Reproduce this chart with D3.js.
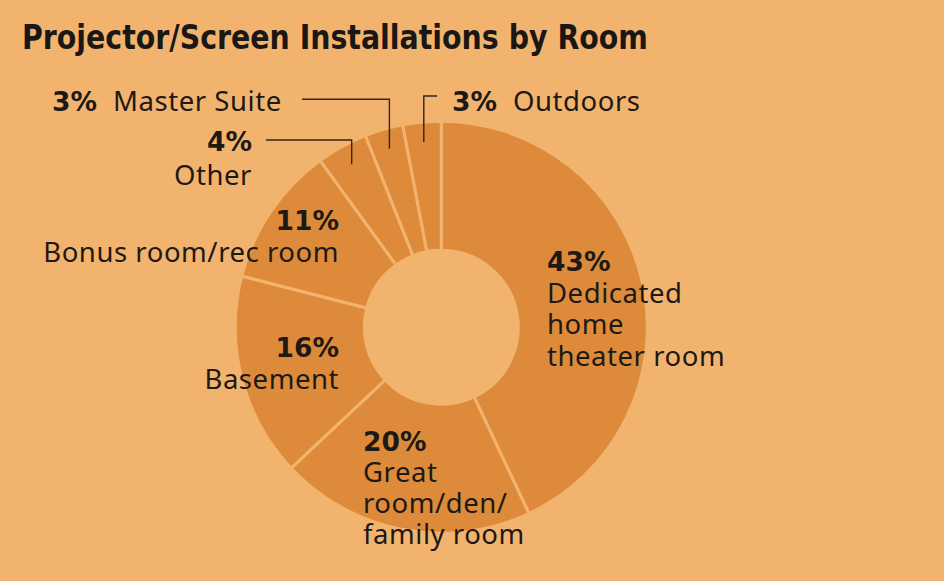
<!DOCTYPE html>
<html>
<head>
<meta charset="utf-8">
<script src="https://cdn.jsdelivr.net/npm/d3@7"></script>
<style>
  html, body { margin: 0; padding: 0; background: #f2b36f; }
  svg { display: block; }
  .title { font-family: "DejaVu Sans", sans-serif; font-weight: bold; font-size: 34px; fill: #1b1714; }
  .pct { font-family: "DejaVu Sans", sans-serif; font-weight: bold; font-size: 26.5px; fill: #1d1915; }
  .lbl { font-family: "Noto Sans", sans-serif; font-size: 27.5px; fill: #1d1915; letter-spacing: 0.55px; }
  .leader { stroke: #33261a; stroke-width: 1.4; fill: none; }
</style>
</head>
<body>
<div id="chart"></div>
<script>
// data
const categories = ['Dedicated home theater room', 'Great room/den/family room', 'Basement',
  'Bonus room/rec room', 'Other', 'Master Suite', 'Outdoors'];
const shares = [43, 20, 16, 11, 4, 3, 3];
const labelLines = [
  ['Dedicated', 'home', 'theater room'],
  ['Great', 'room/den/', 'family room'],
  ['Basement'],
  ['Bonus room/rec room'],
  ['Other'],
  ['Master Suite'],
  ['Outdoors']
];

const W = 944, H = 581;
const cx = 441.3, cy = 327.2;
const rOuter = 206, rInner = 77;
const BG = '#f2b36f', SLICE = '#dd8a3b';

// label placement (layout only)
const labelLayout = {
  'Dedicated home theater room': { x: 547, y: 271, anchor: 'start', lead: 31.5 },
  'Great room/den/family room':  { x: 363, y: 451, anchor: 'start', lead: 31 },
  'Basement':                    { x: 339, y: 357, anchor: 'end', lead: 31.5 },
  'Bonus room/rec room':         { x: 339, y: 229.5, anchor: 'end', lead: 32 },
  'Other':                       { x: 252, y: 151, anchor: 'end', lead: 34, elbowY: 140, endX: 266 },
  'Master Suite':                { x: 52, y: 111, inline: true, elbowY: 99.3, endX: 302 },
  'Outdoors':                    { x: 452, y: 111, inline: true, elbowY: 96, endX: 437 }
};

const svg = d3.select('#chart').append('svg')
  .attr('width', W).attr('height', H);

svg.append('rect').attr('width', W).attr('height', H).attr('fill', BG);

// title: condensed look by squeezing it horizontally to the reference width (626px)
const title = svg.append('text').attr('class', 'title')
  .attr('transform', 'translate(22,49)')
  .text('Projector/Screen Installations by Room');
const tw = title.node().getComputedTextLength();
if (tw > 0) title.attr('transform', `translate(22,49) scale(${(626 / tw).toFixed(4)},1)`);

const rows = categories.map((c, i) => ({ name: c, value: shares[i], lines: labelLines[i] }));

const pie = d3.pie().sort(null).value(d => d.value);
const arcs = pie(rows);
const arc = d3.arc().innerRadius(rInner).outerRadius(rOuter);

const g = svg.append('g').attr('transform', `translate(${cx},${cy})`);

g.selectAll('path.slice')
  .data(arcs)
  .join('path')
  .attr('class', 'slice')
  .attr('d', arc)
  .attr('fill', SLICE)
  .attr('stroke', BG)
  .attr('stroke-width', 3)
  .attr('stroke-linejoin', 'round');

// leader lines for the thin slices
const leaderR = 186;
arcs.forEach(a => {
  const L = labelLayout[a.data.name];
  if (L.elbowY === undefined) return;
  const mid = (a.startAngle + a.endAngle) / 2;
  const px = cx + Math.sin(mid) * leaderR;
  const py = cy - Math.cos(mid) * leaderR;
  svg.append('path').attr('class', 'leader')
    .attr('d', `M${px},${py} V${L.elbowY} H${L.endX}`);
});

// labels
arcs.forEach(a => {
  const L = labelLayout[a.data.name];
  const t = svg.append('text').attr('x', L.x).attr('y', L.y);
  if (L.inline) {
    t.append('tspan').attr('class', 'pct').text(a.data.value + '%');
    t.append('tspan').attr('class', 'lbl').attr('dx', 16).text(a.data.lines[0]);
    return;
  }
  t.attr('text-anchor', L.anchor);
  t.append('tspan').attr('class', 'pct').attr('x', L.x).text(a.data.value + '%');
  a.data.lines.forEach(line => {
    t.append('tspan').attr('class', 'lbl').attr('x', L.x).attr('dy', L.lead).text(line);
  });
});
</script>
</body>
</html>
